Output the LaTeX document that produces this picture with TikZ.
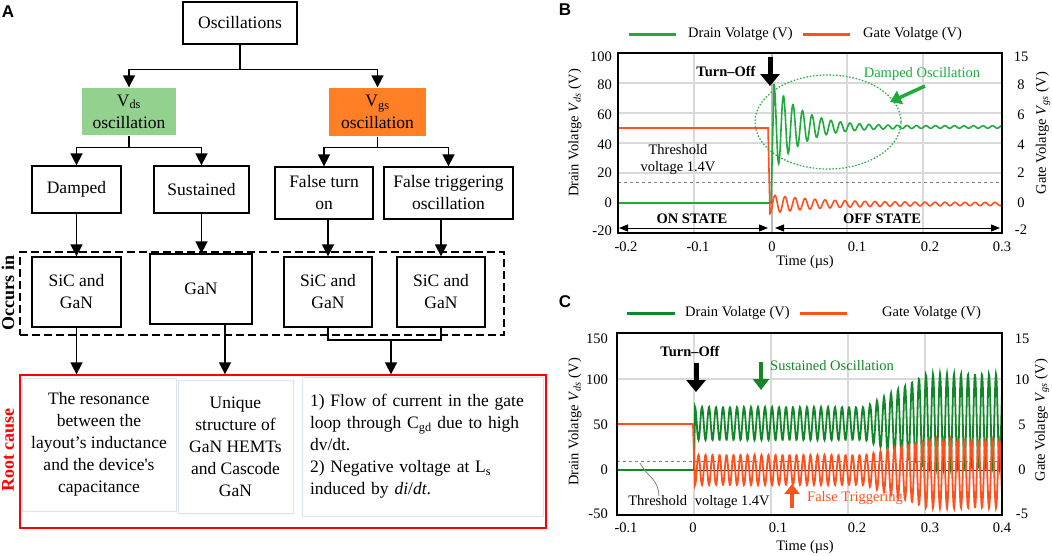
\documentclass[tikz,border=0pt]{standalone}
\usepackage{fontspec}
\setmainfont{Liberation Serif}
\setsansfont{Liberation Sans}
\usepackage{tikz}
\usetikzlibrary{arrows.meta}
\definecolor{vdsfill}{RGB}{146,210,142}
\definecolor{vgsfill}{RGB}{255,127,39}
\definecolor{drainB}{RGB}{30,170,60}
\definecolor{drainC}{RGB}{18,135,42}
\definecolor{gatecol}{RGB}{255,80,30}
\definecolor{cellline}{RGB}{218,228,242}
\newcommand{\boxfont}{\fontsize{17.5}{22}\selectfont}
\newcommand{\plotfont}{\fontsize{14.5}{17}\selectfont}
\tikzset{treebox/.style={draw, line width=1.3pt, align=center, inner sep=0pt, font=\boxfont},
         treearr/.style={line width=1.6pt, -{Triangle[length=12pt,width=12pt]}},
         rootcell/.style={draw=cellline, line width=1pt, inner sep=0pt, font=\boxfont},
         panel/.style={font=\sffamily\bfseries\fontsize{17}{19}\selectfont, inner sep=0pt},
         sidelbl/.style={rotate=90, font=\bfseries\fontsize{18}{20}\selectfont, inner sep=0pt},
         plotlbl/.style={font=\plotfont, inner sep=0pt},
         gridln/.style={gray!30, line width=1.3pt},
         blockarr/.style={line width=5pt, -{Triangle[length=12pt,width=19pt]}},
         statearr/.style={line width=1pt, {Triangle[length=9pt,width=7pt]}-{Triangle[length=9pt,width=7pt]}}}

\begin{document}
\begin{tikzpicture}[x=1pt, y=-1pt]
\useasboundingbox (0,0) rectangle (1052,555);

% panel A
\node[panel] (lblA) at (8,12) {A};
\node[treebox, minimum width=114pt, minimum height=42pt] (osc) at (240,23) {Oscillations};
\node[treebox, draw=none, fill=vdsfill, minimum width=94pt, minimum height=47pt] (vds) at (129,111.5) {V\textsubscript{ds}\\oscillation};
\node[treebox, draw=none, fill=vgsfill, minimum width=97pt, minimum height=48pt] (vgs) at (377.5,112) {V\textsubscript{gs}\\oscillation};
\node[treebox, minimum width=89pt, minimum height=47pt] (dmp) at (76.5,189.5) {Damped};
\node[treebox, minimum width=95pt, minimum height=47pt] (sus) at (201.5,189.5) {Sustained};
\node[treebox, minimum width=98pt, minimum height=52pt] (ft) at (324,193) {False turn\\on};
\node[treebox, minimum width=129pt, minimum height=52pt] (ftr) at (448.5,193) {False triggering\\oscillation};

\node[draw, line width=1.3pt, dash pattern=on 8pt off 4pt, minimum width=484pt, minimum height=83pt, inner sep=0pt] (occ) at (262,293.5) {};
\node[sidelbl] (occlbl) at (8,293) {Occurs in};
\node[treebox, minimum width=89pt, minimum height=70pt] (sic1) at (76.5,292) {SiC and\\GaN};
\node[treebox, minimum width=102pt, minimum height=70pt] (gan) at (201,289) {GaN};
\node[treebox, minimum width=88pt, minimum height=70pt] (sic3) at (328,292) {SiC and\\GaN};
\node[treebox, minimum width=88pt, minimum height=70pt] (sic4) at (441,292) {SiC and\\GaN};

\node[draw=red, line width=1.3pt, minimum width=526pt, minimum height=153pt, inner sep=0pt] (root) at (283,451.5) {};
\node[sidelbl, text=red] (rootlbl) at (8,450) {Root cause};
\node[rootcell, minimum width=154pt, minimum height=133pt, align=center] (ra) at (99,444.5)
  {The resonance\\between the\\layout’s inductance\\and the device\textquotesingle s\\capacitance};
\node[rootcell, minimum width=115pt, minimum height=133pt, align=center] (rb) at (235.5,446.5)
  {Unique\\structure of\\GaN HEMTs\\and Cascode\\GaN};
\node[rootcell, minimum width=241pt, minimum height=139pt, text width=225pt, align=left] (rc) at (422.5,446.5)
  {1) Flow of current in the gate\\loop through C\textsubscript{gd} due to high\\dv/dt.\\2) Negative voltage at L\textsubscript{s}\\induced by \textit{di}/\textit{dt}.};

\draw[treearr] (osc.south) -- ++(0,25) -| (vds.north);
\draw[treearr] (osc.south) -- ++(0,25) -| (vgs.north);
\draw[treearr] (vds.south) -- ++(0,12) -| (dmp.north);
\draw[treearr] (vds.south) -- ++(0,12) -| (sus.north);
\draw[treearr] (vgs.south) -- ++(0,11) -| (ft.north);
\draw[treearr] (vgs.south) -- ++(0,11) -| (ftr.north);
\draw[treearr] (dmp.south) -- (sic1.north);
\draw[treearr] (sus.south) -- (sus.south |- gan.north);
\draw[treearr] (ft.south -| sic3.north) -- (sic3.north);
\draw[treearr] (ftr.south -| sic4.north) -- (sic4.north);
\draw[treearr] (sic1.south) -- (sic1.south |- root.north);
\draw[treearr] ([xshift=24pt]gan.south) -- ([xshift=24pt]gan.south |- root.north);
\coordinate (jn) at (391,340);
\draw[line width=1.3pt] (sic3.south) |- (jn) -| (sic4.south);
\draw[treearr] (jn) -- (jn |- root.north);

% panel B
\node[panel] (lblB) at (565,10) {B};
\draw[drainB, line width=3pt] (629,34) -- (676,34);
\node[plotlbl, anchor=west] (legBd) at (688,34) {Drain Volatge (V)};
\draw[gatecol, line width=3pt] (803,34) -- (850,34);
\node[plotlbl, anchor=west] (legBg) at (863,34) {Gate Volatge (V)};
\foreach \gx in {694,847,923} \draw[gridln] (\gx,53) -- (\gx,233);
\foreach \gy in {83,113,143,173} \draw[gridln] (618,\gy) -- (1002,\gy);
\draw[gray!55, line width=2.5pt] (772,53) -- (772,233);
\draw[gray, dashed, line width=1pt] (618,182) -- (1002,182);
\begin{scope}
\clip (618,53) rectangle (1002,233);
\draw[drainB, line width=1.6pt] (618,203) -- (771,203) -- plot[domain=0:228, samples=500] ({774+\x}, {127-(42*exp(-\x/28)+1.2)*cos(37.9*\x)});
\draw[gatecol, line width=1.6pt] (618,128) -- (768,128) -- plot[domain=0:232, samples=500] ({770+\x}, {204+(8*exp(-\x/50)+1.5)*cos(36*\x)});
\end{scope}
\draw[line width=2.2pt] (618,53) rectangle (1002,233);
\foreach \v/\yy [count=\i] in {100/57,80/85,60/115,40/145,20/173,0/203,-20/231}
  \node[plotlbl, anchor=east] (bl\i) at (612,\yy) {\v};
\foreach \v/\yy [count=\i] in {15/57,8/85,6/115,4/145,2/173,0/203,-2/230}
  \node[plotlbl] (br\i) at (1021,\yy) {\v};
\foreach \v/\xx [count=\i] in {-0.2/626,-0.1/698,0/772,0.1/857,0.2/930,0.3/1002}
  \node[plotlbl] (bx\i) at (\xx,247) {\v};
\node[plotlbl, rotate=90] (byl) at (575,133) {Drain Volatge \textit{V}\textsubscript{\textit{ds}} (V)};
\node[plotlbl, rotate=90] (byr) at (1043,133) {Gate Volatge \textit{V}\textsubscript{\textit{gs}} (V)};
\node[plotlbl] (bxt) at (805,262) {Time (µs)};
\node[plotlbl, font=\plotfont\bfseries] (bturn) at (726,71) {Turn--Off};
\draw[blockarr] (770,57) -- (770,86);
\node[plotlbl, text=drainB] (bdamp) at (922,74) {Damped Oscillation};
\draw[drainB, line width=3.5pt, -{Triangle[length=11pt,width=14pt]}] (925,86) -- (890,102);
\draw[drainB, line width=1.2pt, dash pattern=on 1.5pt off 1.8pt] (828,122) ellipse [x radius=73pt, y radius=47pt];
\node[plotlbl, align=center] (bthr) at (678,159.5) {Threshold\\voltage 1.4V};
\node[plotlbl, font=\plotfont\bfseries] (bon) at (692,219) {ON STATE};
\node[plotlbl, font=\plotfont\bfseries] (boff) at (882,219) {OFF STATE};
\draw[statearr] (619,228) -- (768,228);
\draw[statearr] (775,228) -- (1000,228);

% panel C
\node[panel] (lblC) at (565,302) {C};
\draw[drainC, line width=3pt] (627,313) -- (675,313);
\node[plotlbl, anchor=west] (legCd) at (685,313) {Drain Volatge (V)};
\draw[gatecol, line width=3pt] (800,313) -- (847,313);
\node[plotlbl, anchor=west] (legCg) at (882,313) {Gate Volatge (V)};
\foreach \gx in {694,771,848,925} \draw[gridln] (\gx,333) -- (\gx,515);
\foreach \gy in {379,424.5} \draw[gridln] (617,\gy) -- (1002,\gy);
\draw[gray, dashed, line width=1pt] (617,461) -- (1002,461);
\draw[black!80, line width=0.8pt] (617,470) -- (1002,470);
\begin{scope}
\clip (617,333) rectangle (1002,515);
\draw[drainC, line width=1.8pt] (617,470) -- (694,470) -- plot[domain=-22:22, samples=700] ({849+7*\x}, {423.5-2.5*min(max((7*\x-16)/62,0),1)-(16.5+30.5*min(max((7*\x-16)/62,0),1))*cos(360*\x)});
\draw[gatecol, line width=1.8pt] (617,424) -- (693,424) -- plot[domain=-22:22, samples=700] ({849+7*\x}, {470+4*min(max((7*\x-16)/62,0),1)+(15+19*min(max((7*\x-16)/62,0),1))*cos(360*\x)});
\end{scope}
\draw[line width=2.2pt] (617,333) rectangle (1002,515);
\foreach \v/\yy [count=\i] in {150/339,100/380,50/425,0/470,-50/514}
  \node[plotlbl, anchor=east] (cl\i) at (608,\yy) {\v};
\foreach \v/\yy [count=\i] in {15/339,10/380,5/425,0/470,-5/514}
  \node[plotlbl] (cr\i) at (1022,\yy) {\v};
\foreach \v/\xx [count=\i] in {-0.1/626,0/693,0.1/778,0.2/857,0.3/930,0.4/1002}
  \node[plotlbl] (cx\i) at (\xx,528) {\v};
\node[plotlbl, rotate=90] (cyl) at (575,422) {Drain Volatge \textit{V}\textsubscript{\textit{ds}} (V)};
\node[plotlbl, rotate=90] (cyr) at (1042,420) {Gate Volatge \textit{V}\textsubscript{\textit{gs}} (V)};
\node[plotlbl] (cxt) at (805,547) {Time (µs)};
\node[plotlbl, font=\plotfont\bfseries] (cturn) at (690,351) {Turn--Off};
\draw[blockarr] (696,363) -- (696,392);
\node[plotlbl, text=drainC, anchor=west] (csus) at (770,366) {Sustained Oscillation};
\draw[drainC, line width=4.5pt, -{Triangle[length=11pt,width=16pt]}] (761,362) -- (761,390);
\node[plotlbl, text=gatecol, anchor=west] (cfalse) at (807,498) {False Triggering};
\draw[gatecol, line width=3.5pt, -{Triangle[length=10pt,width=15pt]}] (792,508) -- (792,484);
\draw[gray, line width=0.8pt] (640,463) .. controls (648,478) and (658,478) .. (659,496);
\node[plotlbl] (cthr) at (699,502) {Threshold\hspace{4pt} voltage 1.4V};
\end{tikzpicture}
\end{document}
